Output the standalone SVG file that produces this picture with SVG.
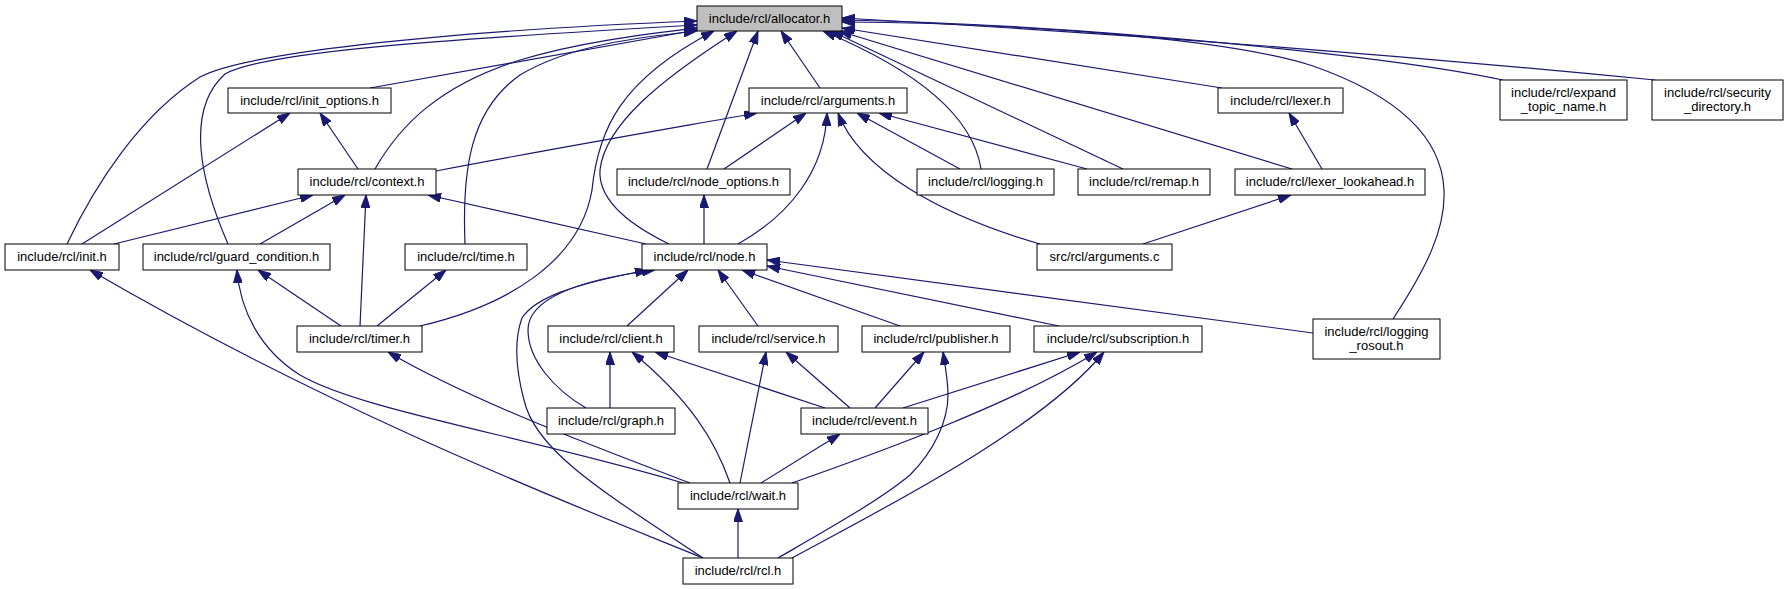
<svg xmlns="http://www.w3.org/2000/svg" width="1789" height="589" viewBox="0 0 1789 589">
<style>
.n rect{fill:#fff;stroke:#000;stroke-width:1}
.n.root rect{fill:#bfbfbf}
.n text{font-family:"Liberation Sans",Arial,sans-serif;font-size:13px;text-anchor:middle;fill:#000}
#edges path{fill:none;stroke:#191970;stroke-width:1.2;marker-end:url(#ah)}
</style>
<defs>
<marker id="ah" markerUnits="userSpaceOnUse" markerWidth="13" markerHeight="9" refX="13" refY="4.5" orient="auto">
<path d="M0,0 L13,4.5 L0,9 z" fill="#191970" stroke="#191970" stroke-width="1"/>
</marker>
</defs>
<rect width="1789" height="589" fill="#fff"/>
<g id="edges">
<path d="M67,244 C95,185 140,115 200,77 C240,55 420,32 697,21"/>
<path d="M228,244 C200,180 185,110 225,74 C265,52 430,40 697,25"/>
<path d="M370,88 L697,30"/>
<path d="M375,169 C400,125 440,85 520,60 C580,42 640,35 697,28"/>
<path d="M465,244 C462,170 470,110 520,75 C570,45 640,37 697,31"/>
<path d="M420,326 C510,305 580,260 592,190 C598,130 620,80 714,31"/>
<path d="M669,244 C630,225 598,200 600,170 C605,125 660,80 737,31"/>
<path d="M707,169 L758,31"/>
<path d="M820,88 L781,31"/>
<path d="M981,169 C975,130 940,80 823,31"/>
<path d="M1123,169 L831,31"/>
<path d="M1292,169 L839,31"/>
<path d="M1222,88 L842,28"/>
<path d="M1503,80 C1400,58 1100,25 842,20"/>
<path d="M1655,80 C1450,60 1150,35 842,18"/>
<path d="M1393,319 C1425,270 1446,230 1444,190 C1442,145 1410,100 1313,66 C1220,36 1000,23 842,22"/>
<path d="M82,244 L290,113"/>
<path d="M358,169 L320,113"/>
<path d="M436,171 C540,151 650,132 757,113"/>
<path d="M724,169 L806,113"/>
<path d="M738,244 C790,215 825,170 827,113"/>
<path d="M1040,244 C940,215 860,170 838,113"/>
<path d="M960,169 L857,113"/>
<path d="M1087,169 L879,113"/>
<path d="M1322,169 L1289,113"/>
<path d="M1143,244 L1291,195"/>
<path d="M114,244 L313,195"/>
<path d="M260,244 L345,195"/>
<path d="M360,326 L366,195"/>
<path d="M646,244 L428,195"/>
<path d="M704,244 L704,195"/>
<path d="M703,558 C560,500 330,410 90,270"/>
<path d="M341,326 L258,270"/>
<path d="M683,483 C520,435 360,410 300,375 C260,350 240,310 237,270"/>
<path d="M377,326 L446,270"/>
<path d="M690,483 C590,445 470,400 388,352"/>
<path d="M627,326 L688,270"/>
<path d="M758,326 L718,270"/>
<path d="M900,326 L742,270"/>
<path d="M1059,326 L767,266"/>
<path d="M1313,333 L767,260"/>
<path d="M586,408 C555,390 528,360 528,330 C528,300 575,280 655,270"/>
<path d="M703,558 C600,490 535,450 524,400 C516,370 514,340 522,318 C535,298 570,285 648,270"/>
<path d="M610,408 L610,352"/>
<path d="M825,408 L655,352"/>
<path d="M730,483 C715,440 690,400 632,352"/>
<path d="M850,408 L786,352"/>
<path d="M740,483 L766,352"/>
<path d="M875,408 L924,352"/>
<path d="M778,558 C830,528 880,500 910,475 C935,450 948,420 948,395 C948,380 945,365 943,352"/>
<path d="M903,408 L1080,352"/>
<path d="M792,483 C880,452 1010,405 1097,352"/>
<path d="M792,558 C880,510 1040,430 1104,352"/>
<path d="M761,483 L840,434"/>
<path d="M738,558 L738,509"/>
</g>
<g id="n-allocator" class="n root"><rect x="697" y="6" width="145" height="25"/><text x="769.5" y="22.5">include/rcl/allocator.h</text></g>
<g id="n-init_options" class="n"><rect x="228" y="88" width="163" height="25"/><text x="309.5" y="104.5">include/rcl/init_options.h</text></g>
<g id="n-arguments" class="n"><rect x="749" y="88" width="158" height="25"/><text x="828" y="104.5">include/rcl/arguments.h</text></g>
<g id="n-lexer" class="n"><rect x="1218" y="88" width="125" height="25"/><text x="1280.5" y="104.5">include/rcl/lexer.h</text></g>
<g id="n-expand_topic_name" class="n"><rect x="1500" y="80" width="127" height="40"/><text x="1563.5" y="97">include/rcl/expand</text><text x="1563.5" y="111">_topic_name.h</text></g>
<g id="n-security_directory" class="n"><rect x="1652" y="80" width="131" height="40"/><text x="1717.5" y="97">include/rcl/security</text><text x="1717.5" y="111">_directory.h</text></g>
<g id="n-context" class="n"><rect x="298" y="169" width="138" height="26"/><text x="367" y="186">include/rcl/context.h</text></g>
<g id="n-node_options" class="n"><rect x="617" y="169" width="173" height="26"/><text x="703.5" y="186">include/rcl/node_options.h</text></g>
<g id="n-logging" class="n"><rect x="917" y="169" width="137" height="26"/><text x="985.5" y="186">include/rcl/logging.h</text></g>
<g id="n-remap" class="n"><rect x="1078" y="169" width="132" height="26"/><text x="1144" y="186">include/rcl/remap.h</text></g>
<g id="n-lexer_lookahead" class="n"><rect x="1235" y="169" width="190" height="26"/><text x="1330" y="186">include/rcl/lexer_lookahead.h</text></g>
<g id="n-init" class="n"><rect x="5" y="244" width="114" height="26"/><text x="62" y="261">include/rcl/init.h</text></g>
<g id="n-guard_condition" class="n"><rect x="143" y="244" width="187" height="26"/><text x="236.5" y="261">include/rcl/guard_condition.h</text></g>
<g id="n-time" class="n"><rect x="405" y="244" width="122" height="26"/><text x="466" y="261">include/rcl/time.h</text></g>
<g id="n-node" class="n"><rect x="642" y="244" width="125" height="26"/><text x="704.5" y="261">include/rcl/node.h</text></g>
<g id="n-arguments_c" class="n"><rect x="1037" y="244" width="135" height="26"/><text x="1104.5" y="261">src/rcl/arguments.c</text></g>
<g id="n-timer" class="n"><rect x="297" y="326" width="125" height="26"/><text x="359.5" y="343">include/rcl/timer.h</text></g>
<g id="n-client" class="n"><rect x="548" y="326" width="126" height="26"/><text x="611" y="343">include/rcl/client.h</text></g>
<g id="n-service" class="n"><rect x="699" y="326" width="139" height="26"/><text x="768.5" y="343">include/rcl/service.h</text></g>
<g id="n-publisher" class="n"><rect x="862" y="326" width="148" height="26"/><text x="936" y="343">include/rcl/publisher.h</text></g>
<g id="n-subscription" class="n"><rect x="1034" y="326" width="168" height="26"/><text x="1118" y="343">include/rcl/subscription.h</text></g>
<g id="n-logging_rosout" class="n"><rect x="1313" y="319" width="127" height="40"/><text x="1376.5" y="336">include/rcl/logging</text><text x="1376.5" y="350">_rosout.h</text></g>
<g id="n-graph" class="n"><rect x="547" y="408" width="128" height="26"/><text x="611" y="425">include/rcl/graph.h</text></g>
<g id="n-event" class="n"><rect x="801" y="408" width="127" height="26"/><text x="864.5" y="425">include/rcl/event.h</text></g>
<g id="n-wait" class="n"><rect x="678" y="483" width="120" height="26"/><text x="738" y="500">include/rcl/wait.h</text></g>
<g id="n-rcl" class="n"><rect x="683" y="558" width="110" height="26"/><text x="738" y="575">include/rcl/rcl.h</text></g>
</svg>
